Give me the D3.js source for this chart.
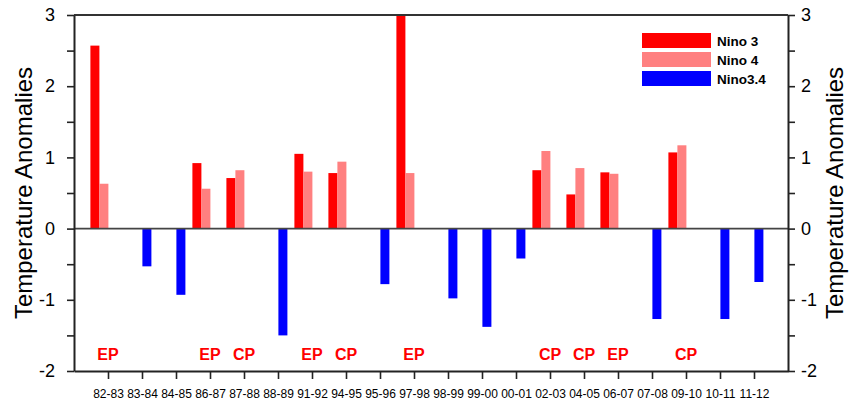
<!DOCTYPE html>
<html>
<head>
<meta charset="utf-8">
<script src="https://cdn.jsdelivr.net/npm/d3@7"></script>
<style>
  body { margin: 0; background: #fff; }
  svg { display: block; font-family: Arial, "Liberation Sans", sans-serif; }
</style>
</head>
<body>
<svg id="chart" width="860" height="402"></svg>
<script>
// Winter seasons (Dec–Feb) on the x axis
const seasons = ["82-83","83-84","84-85","86-87","87-88","88-89","91-92","94-95","95-96","97-98",
                 "98-99","99-00","00-01","02-03","04-05","06-07","07-08","09-10","10-11","11-12"];

// SST anomalies per index (null = not drawn for that season)
const nino3  = [2.57, null, null, 0.92, 0.71, null, 1.05, 0.78, null, 3.0,
                null, null, null, 0.82, 0.48, 0.79, null, 1.07, null, null];
const nino4  = [0.63, null, null, 0.56, 0.82, null, 0.80, 0.94, null, 0.78,
                null, null, null, 1.09, 0.85, 0.77, null, 1.17, null, null];
const nino34 = [null, -0.53, -0.93, null, null, -1.50, null, null, -0.78, null,
                -0.98, -1.38, -0.42, null, null, null, -1.27, null, -1.27, -0.75];

// El Niño flavour per season: eastern-Pacific or central-Pacific
const eventType = ["EP", "", "", "EP", "CP", "", "EP", "CP", "", "EP",
                   "", "", "", "CP", "CP", "EP", "", "CP", "", ""];

const seriesNames = ["Nino 3", "Nino 4", "Nino3.4"];
const seriesColors = ["#ff0000", "#ff8080", "#0000ff"];
const yTicks = [-2, -1.5, -1, -0.5, 0, 0.5, 1, 1.5, 2, 2.5, 3];

const svg = d3.select("#chart");
const plotLeft = 74, plotRight = 788, plotTop = 15, plotBottom = 371;

const x = d3.scalePoint().domain(seasons).range([plotLeft, plotRight]).padding(1);
const y = d3.scaleLinear().domain([-2, 3]).range([plotBottom, plotTop]);
// offset of each index's bar relative to the season tick
const sub = d3.scaleBand().domain(seriesNames).range([-17.6, 9.4]);

const series = [nino3, nino4, nino34];

// bars
series.forEach((vals, k) => {
  svg.append("g")
    .selectAll("rect")
    .data(seasons.map((s, i) => ({ s, v: vals[i] })).filter(d => d.v !== null))
    .join("rect")
    .attr("x", d => x(d.s) + sub(seriesNames[k]))
    .attr("width", sub.bandwidth())
    .attr("y", d => y(Math.max(0, d.v)))
    .attr("height", d => Math.abs(y(d.v) - y(0)))
    .attr("fill", seriesColors[k]);
});

// zero line
svg.append("line")
  .attr("x1", plotLeft).attr("x2", plotRight)
  .attr("y1", y(0)).attr("y2", y(0))
  .attr("stroke", "#444").attr("stroke-width", 1.6);

// frame top edge
svg.append("line")
  .attr("x1", plotLeft).attr("x2", plotRight)
  .attr("y1", plotTop).attr("y2", plotTop)
  .attr("stroke", "#333").attr("stroke-width", 1.8);

const fmt = d => Number.isInteger(d) ? String(d) : "";

function styleAxis(g) {
  g.select(".domain").attr("stroke", "#222").attr("stroke-width", 2);
  g.selectAll(".tick line").attr("stroke", "#222").attr("stroke-width", 1.6);
  g.selectAll(".tick text").attr("fill", "#000");
}

// left axis
svg.append("g")
  .attr("transform", `translate(${plotLeft},0)`)
  .call(d3.axisLeft(y).tickValues(yTicks).tickFormat(fmt).tickSize(7).tickSizeOuter(0).tickPadding(12))
  .call(styleAxis)
  .selectAll("text").attr("font-size", 18).attr("font-family", "Arial, 'Liberation Sans', sans-serif");

// right axis
svg.append("g")
  .attr("transform", `translate(${plotRight},0)`)
  .call(d3.axisRight(y).tickValues(yTicks).tickFormat(fmt).tickSize(7).tickSizeOuter(0).tickPadding(6))
  .call(styleAxis)
  .selectAll("text").attr("font-size", 18).attr("font-family", "Arial, 'Liberation Sans', sans-serif");

// bottom axis
svg.append("g")
  .attr("transform", `translate(0,${plotBottom})`)
  .call(d3.axisBottom(x).tickSize(8).tickSizeOuter(0).tickPadding(10))
  .call(styleAxis)
  .selectAll("text").attr("font-size", 12).attr("font-family", "Arial, 'Liberation Sans', sans-serif");

// EP / CP labels
svg.append("g")
  .selectAll("text")
  .data(seasons.map((s, i) => ({ s, t: eventType[i] })).filter(d => d.t))
  .join("text")
  .attr("x", d => x(d.s))
  .attr("y", 360)
  .attr("text-anchor", "middle")
  .attr("font-size", 16)
  .attr("font-weight", "bold")
  .attr("fill", "#ff0000")
  .text(d => d.t);

// axis titles
svg.append("text")
  .attr("transform", `translate(32,${(plotTop + plotBottom) / 2}) rotate(-90)`)
  .attr("text-anchor", "middle")
  .attr("font-size", 24)
  .text("Temperature Anomalies");

svg.append("text")
  .attr("transform", `translate(843,${(plotTop + plotBottom) / 2}) rotate(-90)`)
  .attr("text-anchor", "middle")
  .attr("font-size", 24)
  .text("Temperature Anomalies");

// legend
const legend = svg.append("g").attr("transform", "translate(642,33)");
seriesNames.forEach((name, k) => {
  const row = legend.append("g").attr("transform", `translate(0,${k * 19})`);
  row.append("rect").attr("width", 69).attr("height", 15).attr("fill", seriesColors[k]);
  row.append("text")
    .attr("x", 75).attr("y", 12.5)
    .attr("font-size", 13.5).attr("font-weight", "bold")
    .text(name);
});
</script>
</body>
</html>
